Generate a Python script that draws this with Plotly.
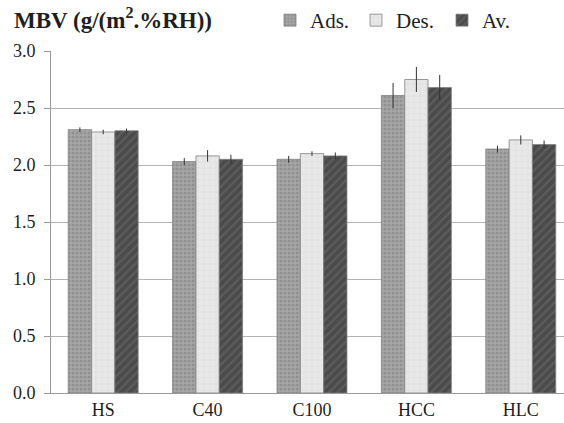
import plotly.graph_objects as go

categories = ["HS", "C40", "C100", "HCC", "HLC"]
ads = [2.31, 2.03, 2.05, 2.61, 2.14]
ads_err = [0.02, 0.03, 0.03, 0.11, 0.03]
des = [2.29, 2.08, 2.10, 2.75, 2.22]
des_err = [0.02, 0.05, 0.02, 0.11, 0.04]
av = [2.30, 2.05, 2.08, 2.68, 2.18]
av_err = [0.02, 0.04, 0.03, 0.11, 0.035]
yticks = [0.0, 0.5, 1.0, 1.5, 2.0, 2.5, 3.0]

FONT = "Liberation Serif"
TXT = "#1e1e1e"

fig = go.Figure()
series = [
    ("Ads.", ads, ads_err, dict(shape=".", fgcolor="#7c7c7c", bgcolor="#a6a6a6", size=4, solidity=0.5)),
    ("Des.", des, des_err, dict(shape="+", fgcolor="#d2d2d2", bgcolor="#e8e8e8", size=6, solidity=0.2)),
    ("Av.", av, av_err, dict(shape="/", fgcolor="#6c6c6c", bgcolor="#4a4a4a", size=6, solidity=0.4)),
]
for name, vals, errs, pat in series:
    fig.add_trace(go.Bar(
        x=categories, y=vals, name=name,
        marker=dict(color=pat["bgcolor"], pattern=pat, line=dict(color="#808080", width=0.8)),
        error_y=dict(type="data", array=errs, color="#333333", thickness=1, width=0),
    ))

fig.update_layout(
    width=564, height=423,
    margin=dict(l=51, r=0, t=51, b=30, autoexpand=False),
    paper_bgcolor="white", plot_bgcolor="white",
    barmode="group", bargap=0.33, bargroupgap=0,
    font=dict(family=FONT, size=18, color=TXT),
    showlegend=True,
    legend=dict(orientation="h", x=270 / 564, y=1.0, xref="container", yref="container",
                xanchor="left", yanchor="top", font=dict(size=21, family=FONT, color=TXT),
                itemwidth=30, entrywidth=41, entrywidthmode="pixels",
                bgcolor="rgba(0,0,0,0)", traceorder="normal"),
    xaxis=dict(range=[-0.5, 4.414], showline=True, linecolor="#999999", linewidth=1,
               ticks="", tickfont=dict(size=18, family=FONT, color=TXT), showgrid=False,
               automargin=False),
    yaxis=dict(range=[0, 3.0], tickvals=yticks, ticktext=[f"{v:.1f}" for v in yticks],
               showline=True, linecolor="#999999", linewidth=1, ticks="outside", ticklen=6,
               tickcolor="#999999", showgrid=True, gridcolor="#b4b4b4", gridwidth=1,
               zeroline=False, tickfont=dict(size=18, family=FONT, color=TXT),
               ticklabelstandoff=5, automargin=False),
    annotations=[dict(text="<b>MBV (g/(m<sup>2</sup>.%RH))</b>", xref="paper", yref="paper",
                      x=(12 - 51) / 513, y=1 + (51 - 19) / 341.5, xanchor="left", yanchor="middle",
                      showarrow=False, font=dict(size=23, family=FONT, color=TXT))],
)
fig.write_html("out.html", post_script="document.body.style.margin='0';",
               config={"displayModeBar": False})
